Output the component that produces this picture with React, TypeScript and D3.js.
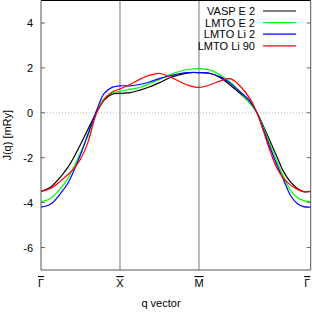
import React from 'react';
import * as d3 from 'd3';

// path positions along Γ-X-M-Γ (|ΓX| = |XM| = 1, |MΓ| = √2)
const qPoints = [
  0, 0.125, 0.25, 0.34, 0.42, 0.5, 0.59, 0.7, 0.8, 0.9, 1,
  1.127, 1.253, 1.38, 1.506, 1.633, 1.76, 1.886, 2,
  2.143, 2.27, 2.396, 2.523, 2.65, 2.734, 2.818, 2.903, 2.987, 3.071, 3.156, 3.24, 3.324, 3.414,
];

const vaspE2 = [
  -3.5, -3.3, -2.84, -2.43, -1.96, -1.41, -0.77, 0.0, 0.56, 0.83, 0.87,
  0.9, 1.01, 1.16, 1.35, 1.56, 1.7, 1.79, 1.79,
  1.75, 1.56, 1.23, 0.86, 0.42, 0.0, -0.62, -1.29, -1.96, -2.62, -3.07, -3.36, -3.51, -3.5,
];
const lmtoE2 = [
  -3.96, -3.8, -3.36, -2.92, -2.37, -1.77, -1.07, 0.02, 0.64, 0.88, 0.96,
  1.04, 1.13, 1.31, 1.5, 1.7, 1.85, 1.94, 1.97,
  1.9, 1.68, 1.36, 0.92, 0.4, 0.0, -0.69, -1.44, -2.18, -2.84, -3.44, -3.76, -3.91, -3.96,
];
const lmtoLi2 = [
  -4.2, -4.06, -3.58, -3.14, -2.55, -1.87, -0.99, 0.07, 0.87, 1.13, 1.2,
  1.2, 1.26, 1.38, 1.53, 1.64, 1.75, 1.79, 1.79,
  1.75, 1.6, 1.31, 0.93, 0.5, 0.0, -0.77, -1.58, -2.32, -2.99, -3.66, -4.03, -4.18, -4.2,
];
const lmtoLi90 = [
  -3.5, -3.36, -3.03, -2.75, -2.47, -2.07, -1.36, -0.05, 0.6, 0.93, 1.06,
  1.26, 1.5, 1.68, 1.75, 1.6, 1.38, 1.2, 1.13,
  1.25, 1.42, 1.52, 1.18, 0.6, 0.0, -0.84, -1.73, -2.47, -2.92, -3.21, -3.4, -3.51, -3.5,
];

const seriesNames = ['VASP E 2', 'LMTO E 2', 'LMTO Li 2', 'LMTO Li 90'];
const seriesValues = [vaspE2, lmtoE2, lmtoLi2, lmtoLi90];
const seriesColors = ['#000000', '#00ff00', '#0000ff', '#ff0000'];

const xTickPos = [0, 1, 2, 2 + Math.SQRT2];
const xTickLabels = ['Γ', 'X', 'M', 'Γ'];
const yTicks = [-6, -4, -2, 0, 2, 4];

const W = 312;
const H = 312;
const margin = { left: 41, right: 1.3, top: 0.5, bottom: 42 };
const font = '"Liberation Sans", Arial, sans-serif';
const fs = 11;

const App = () => {
  const x = d3.scaleLinear().domain([0, 2 + Math.SQRT2]).range([margin.left, W - margin.right]);
  const y = d3.scaleLinear().domain([-7, 5]).range([H - margin.bottom, margin.top]);

  const line = d3.line<number>()
    .x((_, i) => x(qPoints[i]))
    .y(d => y(d))
    .curve(d3.curveCatmullRom.alpha(0.5));

  const x0 = x.range()[0];
  const x1 = x.range()[1];
  const yTop = y(5);
  const yBot = y(-7);

  return (
    <svg width={W} height={H} style={{ position: 'absolute', left: 0, top: 0, background: '#fff' }} fontFamily={font}>
      {/* zero line */}
      <line x1={x0} x2={x1} y1={y(0)} y2={y(0)} stroke="#bbb" strokeWidth={1} strokeDasharray="1,2" />

      {/* vertical lines at X and M */}
      {xTickPos.slice(1, 3).map((p, i) => (
        <line key={i} x1={x(p)} x2={x(p)} y1={yTop} y2={yBot} stroke="#777" strokeWidth={1} />
      ))}

      {/* y ticks, both sides */}
      {yTicks.map(t => (
        <g key={t}>
          <line x1={x0} x2={x0 + 4} y1={y(t)} y2={y(t)} stroke="#666" strokeWidth={1} />
          <line x1={x1 - 4} x2={x1} y1={y(t)} y2={y(t)} stroke="#666" strokeWidth={1} />
          <text x={33} y={y(t) + 4} fontSize={fs} textAnchor="end" fill="#000">{t}</text>
        </g>
      ))}

      {/* curves */}
      {seriesValues.map((vals, i) => (
        <path key={i} d={line(vals) || ''} fill="none" stroke={seriesColors[i]} strokeWidth={1.2} />
      ))}

      {/* border */}
      <line x1={x0} x2={x1} y1={yTop} y2={yTop} stroke="#000" strokeWidth={1} />
      <line x1={x0} x2={x0} y1={yTop} y2={yBot} stroke="#555" strokeWidth={1} />
      <line x1={x1} x2={x1} y1={yTop} y2={yBot} stroke="#555" strokeWidth={1} />
      <line x1={x0} x2={x1} y1={yBot} y2={yBot} stroke="#555" strokeWidth={1} />

      {/* x tick labels */}
      {xTickPos.map((p, i) => (
        <text key={i} x={i === 3 ? x(p) - 3.5 : x(p)} y={287} fontSize={fs} textAnchor="middle"
          style={{ textDecoration: 'overline' }} fill="#000">{xTickLabels[i]}</text>
      ))}

      {/* axis labels */}
      <text x={161} y={307} fontSize={fs} textAnchor="middle" fill="#000">q vector</text>
      <text transform={`translate(10.5,${(yTop + yBot) / 2}) rotate(-90)`} fontSize={fs} textAnchor="middle" fill="#000">J(q) [mRy]</text>

      {/* legend */}
      {seriesNames.map((n, i) => {
        const ly = 11 + i * 11.6;
        return (
          <g key={n}>
            <text x={255} y={ly + 4} fontSize={fs} textAnchor="end" fill="#000">{n}</text>
            <line x1={263} x2={296} y1={ly} y2={ly} stroke={seriesColors[i]} strokeWidth={1.2} />
          </g>
        );
      })}
    </svg>
  );
};

export default App;
